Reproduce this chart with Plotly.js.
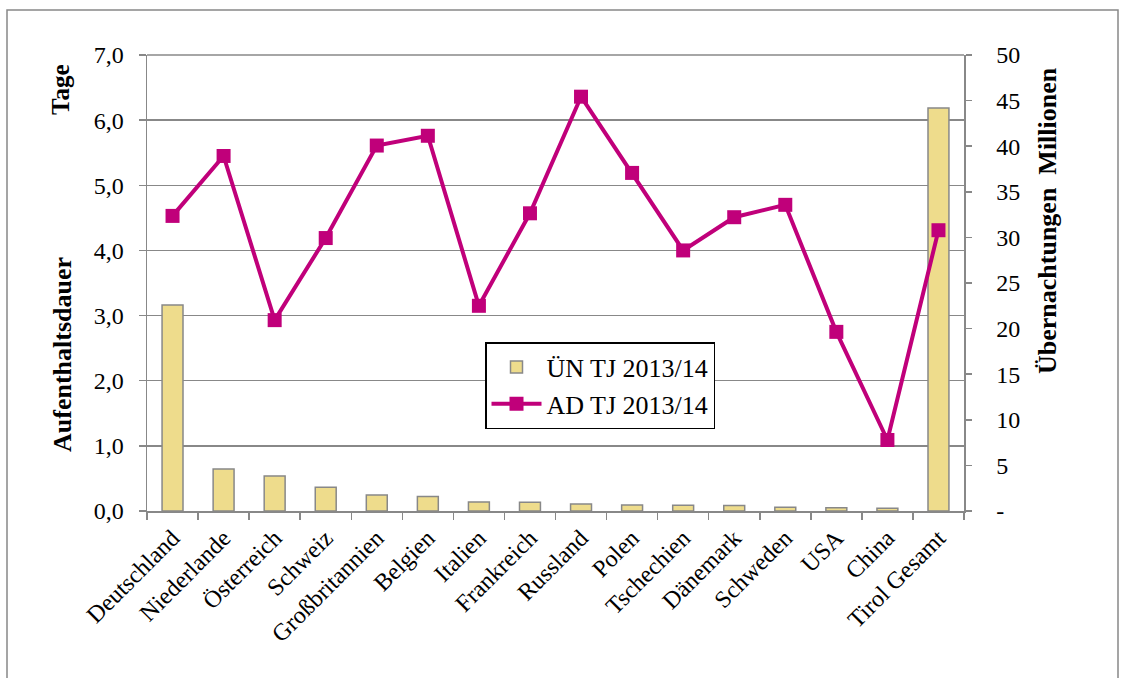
<!DOCTYPE html>
<html>
<head>
<meta charset="utf-8">
<script src="https://cdn.plot.ly/plotly-3.0.1.min.js"></script>
<style>html,body{margin:0;padding:0;background:#fff;}#chart{width:1125px;height:678px;}</style>
</head>
<body>
<div id="chart"></div>
<script>
const categories = ["Deutschland","Niederlande","Österreich","Schweiz","Großbritannien","Belgien","Italien","Frankreich","Russland","Polen","Tschechien","Dänemark","Schweden","USA","China","Tirol Gesamt"];
const overnightStays = [22.6, 4.6, 3.85, 2.6, 1.75, 1.6, 1.0, 0.95, 0.77, 0.66, 0.63, 0.6, 0.4, 0.35, 0.3, 44.2];
const stayDuration = [4.53, 5.45, 2.93, 4.19, 5.61, 5.76, 3.15, 4.57, 6.36, 5.19, 4.0, 4.51, 4.70, 2.75, 1.09, 4.31];
const barName = "ÜN TJ 2013/14";
const lineName = "AD TJ 2013/14";
const rightTickVals = [0,5,10,15,20,25,30,35,40,45,50];
const rightTickText = ["-","5","10","15","20","25","30","35","40","45","50"];

const FONT = "Liberation Serif, Times New Roman, serif";
const px = v => (v - 147) / 817;
const py = v => (511 - v) / 456;

const traces = [
  {
    type: "bar", name: barName, x: categories, y: overnightStays, yaxis: "y",
    width: 0.41,
    marker: {color: "#EEDC8C", line: {color: "#888888", width: 1.5}}
  },
  {
    type: "scatter", mode: "lines+markers", name: lineName, x: categories, y: stayDuration, yaxis: "y2",
    line: {color: "#C0007A", width: 4},
    marker: {symbol: "square", size: 14, color: "#C0007A"},
    cliponaxis: false
  }
];

const layout = {
  width: 1125, height: 678,
  margin: {l: 147, r: 161, t: 55, b: 167},
  paper_bgcolor: "#fff", plot_bgcolor: "#fff",
  separators: ", ",
  font: {family: FONT, size: 24, color: "#000"},
  showlegend: true,
  legend: {
    x: px(485), xanchor: "left", y: py(342), yanchor: "top",
    bgcolor: "#fff", bordercolor: "#000", borderwidth: 1.5,
    font: {family: FONT, size: 26, color: "#000"},
    itemwidth: 50, traceorder: "normal"
  },
  xaxis: {
    type: "category", range: [-0.5, 15.5], autorange: false, tickangle: -45, tickson: "boundaries",
    ticks: "outside", ticklen: 7, tickcolor: "#888", tickwidth: 1.5,
    showline: true, linecolor: "#888", linewidth: 1.5,
    showgrid: false, tickfont: {family: FONT, size: 24, color: "#000"},
    ticklabelstandoff: 2
  },
  yaxis: {
    side: "right", range: [0, 50], autorange: false,
    tickvals: rightTickVals, ticktext: rightTickText,
    ticks: "outside", ticklen: 6, tickcolor: "#888", tickwidth: 1.5,
    showline: true, linecolor: "#888", linewidth: 1.5,
    showgrid: false, zeroline: false,
    tickfont: {family: FONT, size: 24, color: "#000"},
    ticklabelstandoff: 20
  },
  yaxis2: {
    overlaying: "y", side: "left", range: [0, 7], autorange: false, dtick: 1, tickformat: ".1f",
    ticks: "outside", ticklen: 7, tickcolor: "#888", tickwidth: 1.5,
    showline: true, linecolor: "#888", linewidth: 1.5,
    showgrid: true, gridcolor: "#888", gridwidth: 1.5, zeroline: false,
    tickfont: {family: FONT, size: 24, color: "#000"},
    ticklabelstandoff: 10
  },
  annotations: [
    {text: "<b>Tage</b>", xref: "paper", yref: "paper", x: px(61), y: py(90), xanchor: "center", yanchor: "middle", textangle: -90, showarrow: false, font: {family: FONT, size: 25}},
    {text: "<b>Aufenthaltsdauer</b>", xref: "paper", yref: "paper", x: px(62), y: py(355), xanchor: "center", yanchor: "middle", textangle: -90, showarrow: false, font: {family: FONT, size: 26}},
    {text: "<b>Übernachtungen  Millionen</b>", xref: "paper", yref: "paper", x: px(1047), y: py(221), xanchor: "center", yanchor: "middle", textangle: -90, showarrow: false, font: {family: FONT, size: 26}}
  ],
  shapes: [
    {type: "rect", xref: "paper", yref: "paper", x0: px(7), x1: px(1118), y0: py(720), y1: py(10), line: {color: "#888", width: 1.5}, layer: "below"},
    {type: "line", xref: "paper", yref: "paper", x0: 0, x1: 1, y0: 1, y1: 1, line: {color: "#888", width: 1.5}, layer: "below"}
  ]
};

Plotly.newPlot("chart", traces, layout, {displayModeBar: false, staticPlot: true});
</script>
</body>
</html>
